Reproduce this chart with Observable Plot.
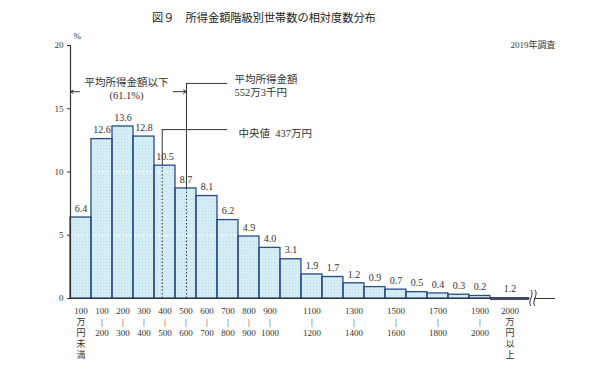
<!DOCTYPE html>
<html><head><meta charset="utf-8">
<script src="https://cdn.jsdelivr.net/npm/d3@7"></script>
<script src="https://cdn.jsdelivr.net/npm/@observablehq/plot@0.6"></script>
<style>
body{margin:0;background:#fff;font-family:"Liberation Serif","Noto Sans CJK JP",serif;}
#title{width:600px;height:30px;box-sizing:border-box;padding:10px 0 0 152px;line-height:16px;font-size:11.2px;color:#222;white-space:pre;}
#chart svg{display:block;}
</style></head><body>
<div id="title">図９　所得金額階級別世帯数の相対度数分布</div>
<div id="chart"></div>
<script>
const lowerBounds = [0,100,200,300,400,500,600,700,800,900,1000,1100,1200,1300,1400,1500,1600,1700,1800,1900,2000];
const shares = [6.4,12.6,13.6,12.8,10.5,8.7,8.1,6.2,4.9,4.0,3.1,1.9,1.7,1.2,0.9,0.7,0.5,0.4,0.3,0.2,1.2];
const tickLabels = ["100\n万\n円\n未\n満","100\n|\n200","200\n|\n300","300\n|\n400","400\n|\n500","500\n|\n600","600\n|\n700","700\n|\n800","800\n|\n900","900\n|\n1000","","1100\n|\n1200","","1300\n|\n1400","","1500\n|\n1600","","1700\n|\n1800","","1900\n|\n2000","2000\n万\n円\n以\n上"];
const yTicks = [0,5,10,15,20];
const meanIncome = 552.3;   // 万円
const medianIncome = 437;   // 万円
const belowMeanShare = 61.1;
const topBinEnd = 2186;     // drawn width of the open-ended class
const breakEnd = 2212;
const axisEnd = 2310;

const bins = lowerBounds.map((lb, i) => ({
  x1: lb,
  x2: i === lowerBounds.length - 1 ? topBinEnd : lb + 100,
  share: shares[i],
  label: tickLabels[i]
}));
bins.forEach(d => d.xc = (d.x1 + d.x2) / 2);
const closed = bins.slice(0, 20);
const openBin = bins.slice(20);
const barTop = v => shares[Math.floor(v / 100)];

const ink = "#333";
const navy = "#2b4a80";
const font = '"Liberation Serif", "Noto Sans CJK JP", serif';

const defs = () => {
  const g = d3.create("svg:defs");
  const p = g.append("pattern").attr("id", "dots").attr("width", 3).attr("height", 3).attr("patternUnits", "userSpaceOnUse");
  p.append("rect").attr("width", 3).attr("height", 3).attr("fill", "#d5eef6");
  p.append("rect").attr("x", 1).attr("y", 1).attr("width", 1).attr("height", 1).attr("fill", "#b7dbe9");
  return g.node();
};

const breakMark = (index, scales) => {
  const xa = scales.x(topBinEnd), xb = scales.x(breakEnd), y0 = scales.y(0);
  const g = d3.create("svg:g").attr("fill", "none").attr("stroke", ink).attr("stroke-width", 1);
  g.append("rect").attr("x", xa + 0.5).attr("y", y0 - 8).attr("width", xb - xa - 1).attr("height", 16).attr("fill", "white").attr("stroke", "none");
  for (const dx of [0, 4]) {
    const x = xa + 2 + dx;
    g.append("path").attr("d", `M${x},${y0 - 8} C${x + 4},${y0 - 4} ${x - 4},${y0 + 4} ${x},${y0 + 8}`);
  }
  return g.node();
};

const plot = Plot.plot({
  width: 600,
  height: 350,
  marginLeft: 70,
  marginRight: 600 - 555,
  marginTop: 15,
  marginBottom: 82,
  style: {fontFamily: font, fontSize: "9px", color: ink, background: "white"},
  x: {type: "linear", domain: [0, axisEnd], axis: null},
  y: {type: "linear", domain: [0, 20]},
  marks: [
    defs,
    Plot.rectY(closed, {x1: "x1", x2: "x2", y: "share", fill: "url(#dots)"}),
    Plot.ruleY([5, 10], {x1: 0, x2: 2000, stroke: "white", strokeDasharray: "2,2", strokeWidth: 1}),
    Plot.rectY(closed, {x1: "x1", x2: "x2", y: "share", fill: "none", stroke: navy, strokeWidth: 1.3}),
    Plot.ruleY([0], {x1: 0, x2: axisEnd, stroke: ink, strokeWidth: 1.2}),
    Plot.ruleY(openBin, {x1: "x1", x2: "x2", y: 0, stroke: "#3d4a60", strokeWidth: 3}),
    breakMark,
    Plot.ruleX([0], {y1: 0, y2: 20, stroke: ink, strokeWidth: 1.2}),
    Plot.axisY({ticks: yTicks, tickSize: 3, tickPadding: 4, fontSize: 9, label: null, stroke: ink, fontFamily: font}),
    Plot.text(["%"], {x: 0, y: 20, dx: 3, dy: -9, textAnchor: "start", fontSize: 9, fontFamily: font}),
    Plot.text(["2019年調査"], {x: axisEnd, y: 20, textAnchor: "end", fontSize: 9, fontFamily: font}),
    // value labels
    Plot.text(closed, {x: "xc", y: "share", text: d => d.share.toFixed(1), dy: -9, fontSize: 10, fontFamily: font}),
    Plot.text(openBin, {x: "xc", y: 0, text: d => d.share.toFixed(1), dy: -10, fontSize: 10, fontFamily: font}),
    // class labels
    Plot.text(bins, {x: "xc", y: 0, text: "label", lineAnchor: "top", dy: 7, lineHeight: 1.25, fontSize: 9, fontFamily: font}),
    // median
    Plot.ruleX([medianIncome], {y1: 0, y2: barTop(medianIncome), stroke: ink, strokeDasharray: "1.5,2"}),
    Plot.ruleX([medianIncome], {y1: barTop(medianIncome), y2: 13.35, stroke: ink}),
    Plot.ruleY([13.35], {x1: medianIncome, x2: 748, stroke: ink}),
    Plot.text(["中央値  437万円"], {x: 800, y: 13.03, textAnchor: "start", fontSize: 10.5, fontFamily: font}),
    // mean
    Plot.ruleX([meanIncome], {y1: 0, y2: barTop(meanIncome), stroke: ink, strokeDasharray: "1.5,2"}),
    Plot.ruleX([meanIncome], {y1: barTop(meanIncome), y2: 17.0, stroke: ink}),
    Plot.ruleY([17.0], {x1: meanIncome, x2: 748, stroke: ink}),
    Plot.text(["平均所得金額\n552万3千円"], {x: 781, y: 16.87, textAnchor: "start", lineHeight: 1.3, fontSize: 10.5, fontFamily: font}),
    // below-mean arrows
    Plot.arrow([{a: 43, b: 0}, {a: 490, b: meanIncome}], {x1: "a", x2: "b", y1: 16.35, y2: 16.35, stroke: ink, strokeWidth: 1, headLength: 5}),
    Plot.text([`平均所得金額以下\n(${belowMeanShare.toFixed(1)}%)`], {x: 267, y: 16.6, lineHeight: 1.2, fontSize: 10.5, fontFamily: font})
  ]
});
document.getElementById("chart").appendChild(plot);
</script>
</body></html>
